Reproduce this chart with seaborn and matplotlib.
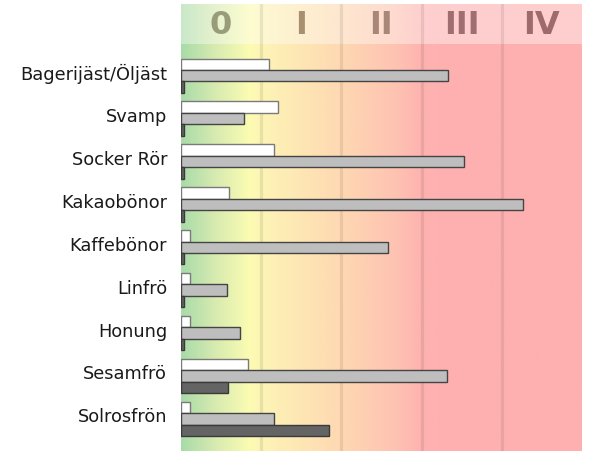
import numpy as np
import pandas as pd
import seaborn as sns
import matplotlib
matplotlib.use('Agg')
import matplotlib.pyplot as plt
from matplotlib.colors import LinearSegmentedColormap
from matplotlib.transforms import ScaledTranslation

categories = ['Bagerijäst/Öljäst', 'Svamp', 'Socker Rör', 'Kakaobönor', 'Kaffebönor',
              'Linfrö', 'Honung', 'Sesamfrö', 'Solrosfrön']
series_names = ['Serie A', 'Serie B', 'Serie C']
serie_a = [1.10, 1.21, 1.16, 0.60, 0.11, 0.11, 0.11, 0.84, 0.11]
serie_b = [3.33, 0.78, 3.53, 4.27, 2.58, 0.57, 0.73, 3.32, 1.16]
serie_c = [0.04, 0.04, 0.04, 0.04, 0.04, 0.04, 0.04, 0.58, 1.84]
class_labels = ['0', 'I', 'II', 'III', 'IV']
class_colors = ['#999c78', '#a88f70', '#a88678', '#a06e70', '#9e6a6c']

df = pd.DataFrame({
    'kategori': categories * 3,
    'serie': [series_names[0]] * 9 + [series_names[1]] * 9 + [series_names[2]] * 9,
    'varde': serie_a + serie_b + serie_c,
})

sns.set_style('white')
plt.rcParams['font.family'] = ['DejaVu Sans']

fig = plt.figure(figsize=(5.89, 4.52), dpi=100)
W, H = 589, 452
ax = fig.add_axes([181 / W, 0, 401 / W, 407 / H])
hx = fig.add_axes([181 / W, 407 / H, 401 / W, 40 / H])

# background gradient green -> yellow -> orange -> red
cmap = LinearSegmentedColormap.from_list('klass', [
    (0.0, '#a9dba9'), (0.08, '#d6eab0'), (0.17, '#fcfcb2'), (0.2, '#fdf4b6'),
    (0.3, '#fee6b4'), (0.4, '#fed8b2'), (0.54, '#fec2b2'), (0.6, '#feb3b0'),
    (0.66, '#feb0b0'), (1.0, '#feb0b0')])
grad = np.linspace(0, 1, 500).reshape(1, -1)

ylim = (8.75, -0.74)
ax.imshow(grad, cmap=cmap, aspect='auto', extent=[0, 5, ylim[0], ylim[1]], zorder=0)
hx.imshow(grad, cmap=cmap, aspect='auto', extent=[0, 5, 0, 1], alpha=0.62, zorder=0)

for a in (ax, hx):
    for xv in [1, 2, 3, 4]:
        a.axvline(xv, color='black', alpha=0.08, lw=2.3, zorder=0.5)

sns.barplot(data=df, x='varde', y='kategori', hue='serie', orient='h', ax=ax,
            palette=['#ffffff', '#bebebe', '#646464'], saturation=1, width=0.8,
            gap=0, linewidth=1, legend=False, zorder=2)
for cont, ec in zip(ax.containers, ['#7a7a7a', '#444444', '#3a3a3a']):
    for p in cont:
        p.set_edgecolor(ec)

ax.set_xlim(0, 5)
ax.set_ylim(*ylim)
ax.set_xlabel('')
ax.set_ylabel('')
ax.set_xticks([])
ax.tick_params(axis='y', length=0, pad=10, labelsize=12.8, labelcolor='#1a1a1a')
# labels sit a little above the group centre in the original
for lbl in ax.get_yticklabels():
    lbl.set_transform(lbl.get_transform() + ScaledTranslation(0, 0.045, fig.dpi_scale_trans))
for s in ax.spines.values():
    s.set_visible(False)

hx.set_xlim(0, 5)
hx.set_ylim(0, 1)
hx.set_xticks([])
hx.set_yticks([])
for s in hx.spines.values():
    s.set_visible(False)
for i, lab in enumerate(class_labels):
    hx.text(i + 0.5, 0.48, lab, ha='center', va='center', fontsize=23,
            fontweight='bold', color=class_colors[i])

fig.savefig('out.png', dpi=100, facecolor='white')
